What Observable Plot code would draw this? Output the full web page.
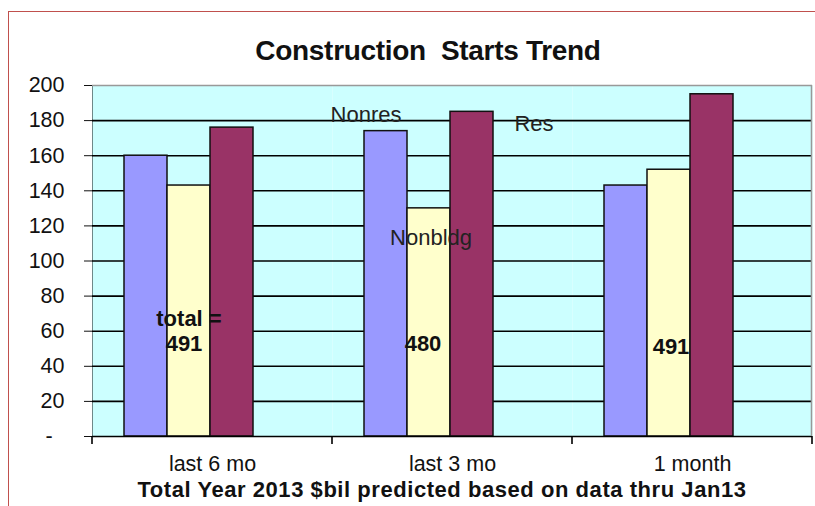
<!DOCTYPE html>
<html>
<head>
<meta charset="utf-8">
<script src="https://cdn.jsdelivr.net/npm/d3@7"></script>
<script src="https://cdn.jsdelivr.net/npm/@observablehq/plot@0.6"></script>
<style>
  html, body { margin: 0; padding: 0; background: #fff; overflow: hidden; }
  #wrap { position: relative; width: 815px; height: 506px; overflow: hidden; font-family: "Liberation Sans", Arial, sans-serif; }
  #border { position: absolute; left: 8px; top: 11px; width: 900px; height: 600px; border: 1.5px solid #c0504d; box-sizing: border-box; }
  #chart { position: absolute; left: 0; top: 0; }
  #title { position: absolute; left: 0; width: 856px; top: 36px; text-align: center; font-weight: bold; font-size: 28px; line-height: 30px; color: #111; letter-spacing: -0.3px; white-space: nowrap; }
  #caption { position: absolute; left: 0; width: 884px; top: 478px; text-align: center; font-weight: bold; font-size: 22px; line-height: 24px; color: #111; letter-spacing: 0.55px; white-space: nowrap; }
</style>
</head>
<body>
<div id="wrap">
  <div id="border"></div>
  <div id="chart"></div>
  <div id="title">Construction&nbsp; Starts Trend</div>
  <div id="caption">Total Year 2013 $bil predicted based on data thru Jan13</div>
</div>
<script>
// ---- data ----
const categories = ["last 6 mo", "last 3 mo", "1 month"];
const series = ["Nonres", "Nonbldg", "Res"];
const nonres = [160, 174, 143];
const nonbldg = [143, 130, 152];
const res = [176, 185, 195];
const seriesColors = ["#9999ff", "#ffffcc", "#993366"];
const yTicks = [0, 20, 40, 60, 80, 100, 120, 140, 160, 180, 200];

// series name annotations
const seriesNoteText = ["Nonres", "Res", "Nonbldg"];
const seriesNoteCat = ["last 3 mo", "last 3 mo", "last 3 mo"];
const seriesNoteAt = ["Nonres", "Res", "Nonbldg"];
const seriesNoteY = [183, 178, 113];
// total annotations
const totalNoteText = ["total =", "491", "480", "491"];
const totalNoteCat = ["last 6 mo", "last 6 mo", "last 3 mo", "1 month"];
const totalNoteY = [67, 53, 53, 51];

// ---- build tables ----
const valuesBySeries = [nonres, nonbldg, res];
const table = [];
categories.forEach((c, i) => series.forEach((s, j) => table.push({cat: c, series: s, value: valuesBySeries[j][i]})));
const seriesNotes = seriesNoteText.map((t, i) => ({text: t, cat: seriesNoteCat[i], at: seriesNoteAt[i], y: seriesNoteY[i]}));
const totalNotes = totalNoteText.map((t, i) => ({text: t, cat: totalNoteCat[i], at: "Nonbldg", y: totalNoteY[i]}));

// pixel nudges of the free-floating labels (style)
const seriesNoteDx = [-20, 62, 2];
const totalNoteDx = [0, -5, -6, 2];

const font = "'Liberation Sans', Arial, sans-serif";
const plot = Plot.plot({
  width: 815,
  height: 506,
  marginLeft: 91,
  marginRight: 3,
  marginTop: 85,
  marginBottom: 70,
  style: {background: "transparent", fontFamily: font, fontSize: "21.5px", color: "#111"},
  fx: {domain: categories, padding: 0, label: null, axis: "bottom", tickSize: 0, tickPadding: 19},
  x: {domain: series, axis: null, paddingInner: 0, paddingOuter: 1.27, align: 0.29},
  y: {domain: [0, 200], ticks: yTicks, tickSize: 8, tickPadding: 20, label: null, line: true,
      tickFormat: d => d === 0 ? "-\u00a0\u00a0" : String(d)},
  color: {domain: series, range: seriesColors},
  marks: [
    Plot.frame({fill: "#ccffff", stroke: null}),
    Plot.ruleY(yTicks.filter(d => d > 0 && d < 200), {stroke: "#000", strokeWidth: 1.6}),
    Plot.ruleY([200], {stroke: "#999", strokeWidth: 1.5}),
    Plot.barY(table, {fx: "cat", x: "series", y: "value", fill: "series", stroke: "#111", strokeWidth: 1.5}),
    Plot.ruleY([0], {stroke: "#000", strokeWidth: 1.6}),
    ...seriesNotes.map((n, i) => Plot.text([n], {fx: "cat", x: "at", y: "y", text: "text", dx: seriesNoteDx[i],
      fill: "#222", fontSize: 22})),
    ...totalNotes.map((n, i) => Plot.text([n], {fx: "cat", x: "at", y: "y", text: "text", dx: totalNoteDx[i],
      fill: "#111", fontSize: 22, fontWeight: "bold"}))
  ]
});
document.getElementById("chart").appendChild(plot);

// boundary ticks on the category axis and right border, derived from the fx and y scales
const svg = d3.select(plot);
const fx = plot.scale("fx");
const y = plot.scale("y");
const y0 = y.apply(0), y200 = y.apply(200);
const right = fx.range[1];
const edges = categories.map(c => fx.apply(c)).concat([right]);
const g = svg.append("g");
g.selectAll("line").data(edges).join("line")
  .attr("x1", d => d).attr("x2", d => d)
  .attr("y1", y0).attr("y2", y0 + 8)
  .attr("stroke", "#000").attr("stroke-width", 1.6);
g.append("line").attr("x1", right - 0.5).attr("x2", right - 0.5).attr("y1", y200).attr("y2", y0)
  .attr("stroke", "#999").attr("stroke-width", 1.5);
</script>
</body>
</html>
